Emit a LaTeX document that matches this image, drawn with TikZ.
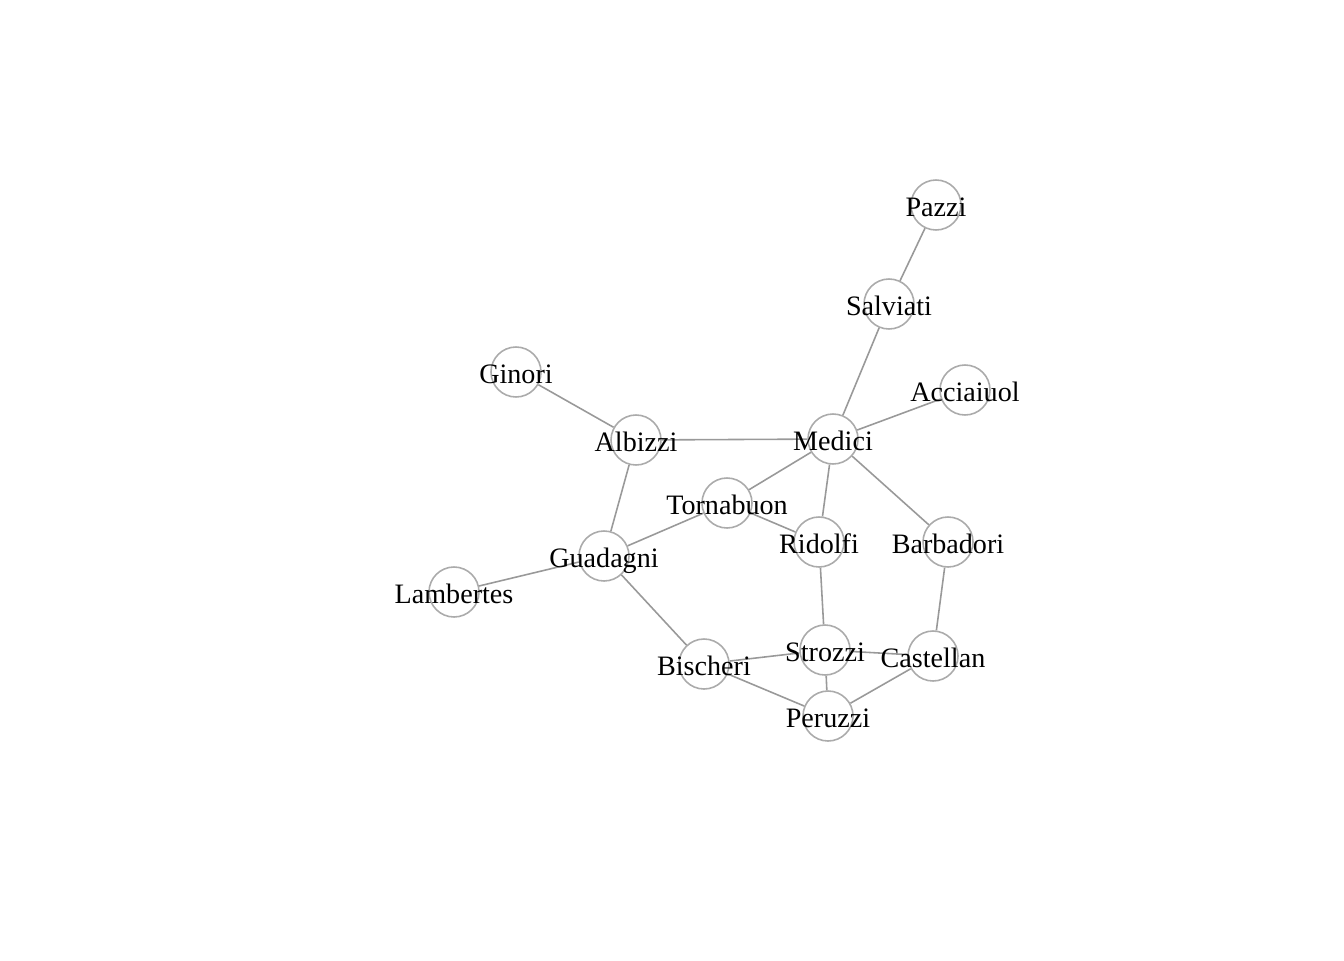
\documentclass[tikz,border=0pt]{standalone}
\usepackage{fontspec}
\setmainfont{Liberation Serif}
\usetikzlibrary{positioning}

\begin{document}
\begin{tikzpicture}[x=0.02cm,y=-0.02cm,
		fam/.style={circle,draw=black!33,line width=0.9pt,minimum size=1cm,inner sep=0pt},
		famname/.style={font=\fontsize{16}{18}\selectfont,inner sep=0pt,text height=0.75em,text depth=0pt,yshift=-2.8pt},
		tie/.style={draw=black!40,line width=0.9pt}]
	\useasboundingbox (0,0) rectangle (1344,960);

	% families
	\node[fam] (pazzi)     at (936,205) {};
	\node[fam] (salviati)  at (889,304) {};
	\node[fam] (acciaiuol) at (965,390) {};
	\node[fam] (ginori)    at (516,372) {};
	\node[fam] (albizzi)   at (636,440) {};
	\node[fam] (medici)    at (833,439) {};
	\node[fam] (tornabuon) at (727,503) {};
	\node[fam] (ridolfi)   at (819,542) {};
	\node[fam] (barbadori) at (948,542) {};
	\node[fam] (guadagni)  at (604,556) {};
	\node[fam] (lambertes) at (454,592) {};
	\node[fam] (bischeri)  at (704,664) {};
	\node[fam] (strozzi)   at (825,650) {};
	\node[fam] (castellan) at (933,656) {};
	\node[fam] (peruzzi)   at (828,716) {};

	% ties
	\draw[tie]
		(pazzi)     -- (salviati)
		(salviati)  -- (medici)
		(acciaiuol) -- (medici)
		(ginori)    -- (albizzi)
		(albizzi)   -- (medici)
		(albizzi)   -- (guadagni)
		(medici)    -- (tornabuon)
		(medici)    -- (ridolfi)
		(medici)    -- (barbadori)
		(tornabuon) -- (guadagni)
		(tornabuon) -- (ridolfi)
		(guadagni)  -- (lambertes)
		(guadagni)  -- (bischeri)
		(ridolfi)   -- (strozzi)
		(barbadori) -- (castellan)
		(bischeri)  -- (strozzi)
		(bischeri)  -- (peruzzi)
		(strozzi)   -- (castellan)
		(strozzi)   -- (peruzzi)
		(peruzzi)   -- (castellan)
	;

	% names
	\node[famname] (pazzi-t)     at (pazzi)     {Pazzi};
	\node[famname] (salviati-t)  at (salviati)  {Salviati};
	\node[famname] (acciaiuol-t) at (acciaiuol) {Acciaiuol};
	\node[famname] (ginori-t)    at (ginori)    {Ginori};
	\node[famname] (albizzi-t)   at (albizzi)   {Albizzi};
	\node[famname] (medici-t)    at (medici)    {Medici};
	\node[famname] (tornabuon-t) at (tornabuon) {Tornabuon};
	\node[famname] (ridolfi-t)   at (ridolfi)   {Ridolfi};
	\node[famname] (barbadori-t) at (barbadori) {Barbadori};
	\node[famname] (guadagni-t)  at (guadagni)  {Guadagni};
	\node[famname] (lambertes-t) at (lambertes) {Lambertes};
	\node[famname] (bischeri-t)  at (bischeri)  {Bischeri};
	\node[famname] (strozzi-t)   at (strozzi)   {Strozzi};
	\node[famname] (castellan-t) at (castellan) {Castellan};
	\node[famname] (peruzzi-t)   at (peruzzi)   {Peruzzi};
\end{tikzpicture}
\end{document}
